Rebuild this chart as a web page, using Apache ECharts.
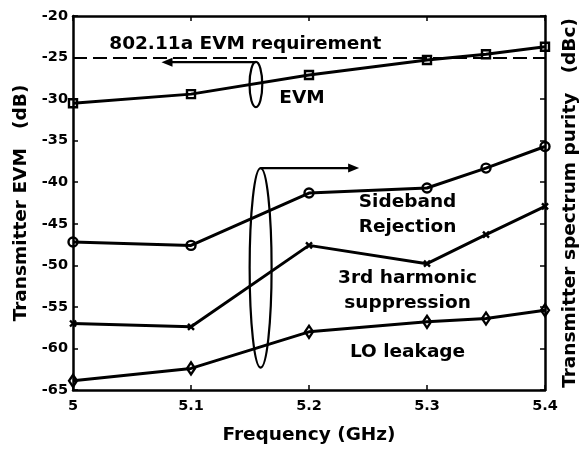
<!DOCTYPE html>
<html>
<head>
<meta charset="utf-8">
<script src="https://cdn.jsdelivr.net/npm/echarts@6/dist/echarts.min.js"></script>
<style>
html,body{margin:0;padding:0;background:#fff;}
#c{width:588px;height:450px;}
</style>
</head>
<body>
<div id="c"></div>
<script>
// ---- data ----
const freq = [5.0, 5.1, 5.2, 5.3, 5.35, 5.4];
const evm = [-30.5, -29.4, -27.1, -25.3, -24.6, -23.7];
const sideband = [-47.2, -47.6, -41.3, -40.7, -38.3, -35.7];
const harmonic3 = [-57.0, -57.4, -47.6, -49.8, -46.3, -42.9];
const loLeakage = [-63.9, -62.4, -58.0, -56.8, -56.4, -55.4];
const evmRequirement = -25;
const xTickLabels = ['5', '5.1', '5.2', '5.3', '5.4'];
const yTickLabels = ['-65', '-60', '-55', '-50', '-45', '-40', '-35', '-30', '-25', '-20'];

const FONT = 'DejaVu Sans';
const pairs = ys => freq.map((f, i) => [f, ys[i]]);
const xMin = 5, xMax = 5.4, xInt = 0.1;
const yMin = -65, yMax = -20, yInt = 5;

const chart = echarts.init(document.getElementById('c'), null, {renderer: 'canvas'});

const lineBase = {
  type: 'line',
  xAxisIndex: 0, yAxisIndex: 0,
  showSymbol: true,
  lineStyle: {color: '#000', width: 3},
  itemStyle: {color: 'rgba(0,0,0,0)', borderColor: '#000', borderWidth: 2.4},
  emphasis: {disabled: true},
  animation: false,
  z: 3
};

const xLabelFmt = v => {
  const idx = Math.round((v - xMin) / xInt);
  return xTickLabels[idx] !== undefined ? xTickLabels[idx] : '';
};
const yLabelFmt = v => {
  const idx = Math.round((v - yMin) / yInt);
  return yTickLabels[idx] !== undefined ? yTickLabels[idx] : '';
};

const axisCommon = {
  axisLine: {show: true, onZero: false, lineStyle: {color: '#000', width: 2.5}},
  axisTick: {show: true, inside: true, length: 5, lineStyle: {color: '#000', width: 1.5}},
  splitLine: {show: false}
};

chart.setOption({
  backgroundColor: '#fff',
  animation: false,
  grid: {left: 73, right: 41, top: 16, bottom: 60, containLabel: false},
  xAxis: [
    Object.assign({
      type: 'value', min: xMin, max: xMax, interval: xInt, position: 'bottom',
      name: 'Frequency (GHz)', nameLocation: 'middle', nameGap: 36,
      nameTextStyle: {fontFamily: FONT, fontWeight: 'bold', fontSize: 18.5, color: '#000'},
      axisLabel: {show: true, margin: 9, formatter: xLabelFmt, fontFamily: FONT, fontWeight: 'bold', fontSize: 14.5, color: '#000'}
    }, axisCommon),
    Object.assign({
      type: 'value', min: xMin, max: xMax, interval: xInt, position: 'top',
      axisLabel: {show: false}
    }, axisCommon)
  ],
  yAxis: [
    Object.assign({
      type: 'value', min: yMin, max: yMax, interval: yInt, position: 'left',
      name: 'Transmitter EVM   (dB)', nameLocation: 'middle', nameGap: 42,
      nameTextStyle: {fontFamily: FONT, fontWeight: 'bold', fontSize: 18.5, color: '#000'},
      axisLabel: {show: true, margin: 5, formatter: yLabelFmt, fontFamily: FONT, fontWeight: 'bold', fontSize: 14.5, color: '#000'}
    }, axisCommon),
    Object.assign({
      type: 'value', min: yMin, max: yMax, interval: yInt, position: 'right',
      name: 'Transmitter spectrum purity   (dBc)', nameLocation: 'middle', nameGap: 16,
      nameTextStyle: {fontFamily: FONT, fontWeight: 'bold', fontSize: 18.5, color: '#000'},
      axisLabel: {show: false}
    }, axisCommon)
  ],
  series: [
    Object.assign({}, lineBase, {
      name: 'EVM', data: pairs(evm), symbol: 'rect', symbolSize: 8,
      markLine: {
        silent: true, symbol: ['none', 'none'], label: {show: false}, animation: false,
        lineStyle: {color: '#000', width: 2, type: [14, 6]},
        data: [{yAxis: evmRequirement}]
      }
    }),
    Object.assign({}, lineBase, {name: 'Sideband', data: pairs(sideband), symbol: 'circle', symbolSize: 9}),
    Object.assign({}, lineBase, {name: '3rd harmonic', data: pairs(harmonic3), symbol: 'path://M0,0L10,10M0,10L10,0', symbolSize: 6}),
    Object.assign({}, lineBase, {name: 'LO leakage', data: pairs(loLeakage), symbol: 'diamond', symbolSize: [8, 12]})
  ]
});

// ---- annotations (in data coordinates) ----
const P = (x, y) => chart.convertToPixel({gridIndex: 0}, [x, y]);
const ell1 = {cx: 5.155, cy: -28.25, rx: 0.0054, ry: 2.72};
const arrow1 = {x1: 5.155, x2: 5.075, y: -25.55};
const ell2 = {cx: 5.159, cy: -50.3, rx: 0.0093, ry: 12.0};
const arrow2 = {x1: 5.159, x2: 5.2425, y: -38.3};
const notes = [
  {text: '802.11a EVM requirement', x: 5.146, y: -23.4},
  {text: 'EVM', x: 5.194, y: -29.9},
  {text: 'Sideband\nRejection', x: 5.2835, y: -43.9},
  {text: '3rd harmonic\nsuppression', x: 5.2835, y: -53.0},
  {text: 'LO leakage', x: 5.2835, y: -60.4}
];

function ellipseShape(e) {
  const c = P(e.cx, e.cy);
  const a = P(e.cx + e.rx, e.cy + e.ry);
  return {cx: c[0], cy: c[1], rx: Math.abs(a[0] - c[0]), ry: Math.abs(a[1] - c[1])};
}
function arrowGraphics(a) {
  const p1 = P(a.x1, a.y), p2 = P(a.x2, a.y);
  const dir = Math.sign(p2[0] - p1[0]);
  const headLen = 11, headHalf = 4.5;
  return [
    {type: 'line', shape: {x1: p1[0], y1: p1[1], x2: p2[0] - dir * headLen * 0.6, y2: p2[1]},
     style: {stroke: '#000', lineWidth: 2.2}, z: 10},
    {type: 'polygon', shape: {points: [[p2[0], p2[1]], [p2[0] - dir * headLen, p2[1] - headHalf], [p2[0] - dir * headLen, p2[1] + headHalf]]},
     style: {fill: '#000'}, z: 10}
  ];
}

const graphics = [];
graphics.push({type: 'ellipse', shape: ellipseShape(ell1), style: {fill: 'none', stroke: '#000', lineWidth: 2.2}, z: 10});
graphics.push({type: 'ellipse', shape: ellipseShape(ell2), style: {fill: 'none', stroke: '#000', lineWidth: 2.2}, z: 10});
graphics.push.apply(graphics, arrowGraphics(arrow1));
graphics.push.apply(graphics, arrowGraphics(arrow2));
notes.forEach(n => {
  const p = P(n.x, n.y);
  graphics.push({
    type: 'text', x: p[0], y: p[1], z: 10,
    style: {text: n.text, fill: '#000', font: 'bold 18.5px "DejaVu Sans"', align: 'center', verticalAlign: 'middle', lineHeight: 25}
  });
});
chart.setOption({graphic: graphics});
</script>
</body>
</html>
